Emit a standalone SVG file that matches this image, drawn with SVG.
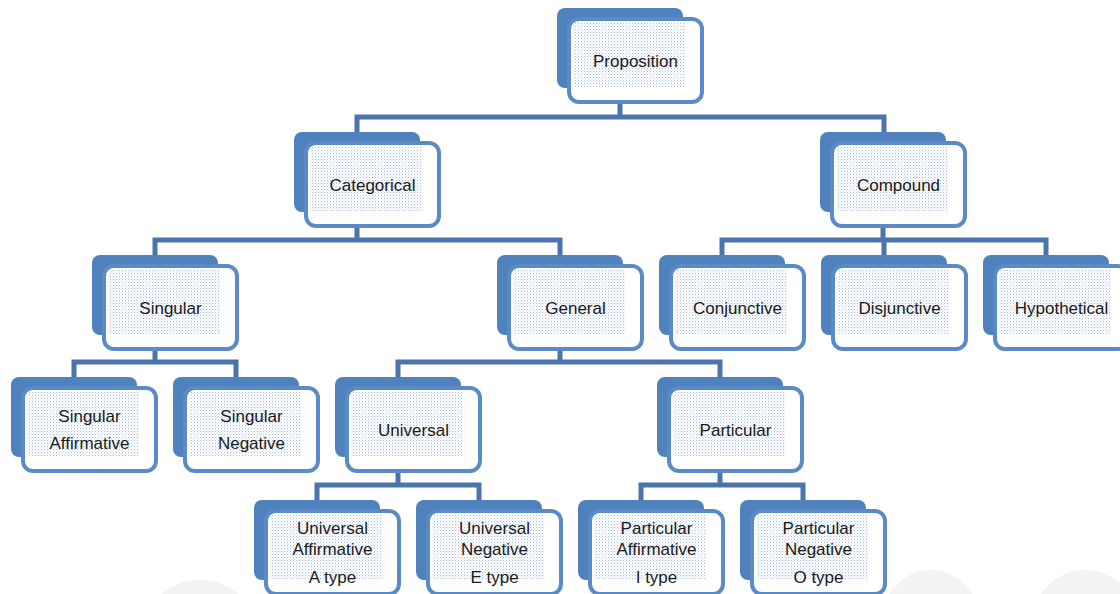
<svg xmlns="http://www.w3.org/2000/svg" width="1120" height="594" viewBox="0 0 1120 594">
<defs>
<pattern id="dots" width="3" height="3" patternUnits="userSpaceOnUse">
<rect width="3" height="3" fill="#ffffff"/>
<rect x="0" y="0" width="1" height="1" fill="#a9bfdf"/>
<rect x="1.5" y="1.5" width="1" height="1" fill="#c4d3ea"/>
</pattern>
<style>
.back{fill:#4f81bd}
.front{fill:#ffffff;stroke:#5b8bc7;stroke-width:4}
.dots{fill:url(#dots)}
.lbl{font-family:"Liberation Sans",Arial,sans-serif;font-size:17px;fill:#1a1a1a;text-anchor:middle}
.conn{fill:none;stroke:#4a74ab;stroke-width:5;stroke-linejoin:miter;stroke-linecap:butt}
.wm{fill:#f3f3f3}
</style>
</defs>
<rect width="1120" height="594" fill="#ffffff"/>
<g id="watermark">
<circle class="wm" cx="931" cy="618" r="48"/>
<circle class="wm" cx="1085" cy="622" r="52"/>
<circle class="wm" cx="200" cy="640" r="60"/>
</g>
<g id="connectors">
<path class="conn" d="M620,104 V117 M357,132 V117 H884 V132"/>
<path class="conn" d="M357,228 V240 M155,255 V240 H560 V255"/>
<path class="conn" d="M883,228 V240 M722,255 V240 H1046 V255 M884,240 V255"/>
<path class="conn" d="M155,351 V362 M74,377 V362 H236 V377"/>
<path class="conn" d="M560,351 V362 M398,377 V362 H720 V377"/>
<path class="conn" d="M398,473 V485 M317,500 V485 H479 V500"/>
<path class="conn" d="M720,473 V485 M641,500 V485 H803 V500"/>
</g>
<g id="n-proposition" transform="translate(557,8)">
<rect class="back" width="126" height="80" rx="8"/>
<rect class="front" x="12" y="11" width="133" height="83" rx="10"/>
<rect class="dots" x="16" y="15" width="112" height="64"/>
<text class="lbl" x="78.5" y="59">Proposition</text>
</g>
<g id="n-categorical" transform="translate(294,132)">
<rect class="back" width="126" height="80" rx="8"/>
<rect class="front" x="12" y="11" width="133" height="83" rx="10"/>
<rect class="dots" x="16" y="15" width="112" height="64"/>
<text class="lbl" x="78.5" y="59">Categorical</text>
</g>
<g id="n-compound" transform="translate(820,132)">
<rect class="back" width="126" height="80" rx="8"/>
<rect class="front" x="12" y="11" width="133" height="83" rx="10"/>
<rect class="dots" x="16" y="15" width="112" height="64"/>
<text class="lbl" x="78.5" y="59">Compound</text>
</g>
<g id="n-singular" transform="translate(92,255)">
<rect class="back" width="126" height="80" rx="8"/>
<rect class="front" x="12" y="11" width="133" height="83" rx="10"/>
<rect class="dots" x="16" y="15" width="112" height="64"/>
<text class="lbl" x="78.5" y="59">Singular</text>
</g>
<g id="n-general" transform="translate(497,255)">
<rect class="back" width="126" height="80" rx="8"/>
<rect class="front" x="12" y="11" width="133" height="83" rx="10"/>
<rect class="dots" x="16" y="15" width="112" height="64"/>
<text class="lbl" x="78.5" y="59">General</text>
</g>
<g id="n-conjunctive" transform="translate(659,255)">
<rect class="back" width="126" height="80" rx="8"/>
<rect class="front" x="12" y="11" width="133" height="83" rx="10"/>
<rect class="dots" x="16" y="15" width="112" height="64"/>
<text class="lbl" x="78.5" y="59">Conjunctive</text>
</g>
<g id="n-disjunctive" transform="translate(821,255)">
<rect class="back" width="126" height="80" rx="8"/>
<rect class="front" x="12" y="11" width="133" height="83" rx="10"/>
<rect class="dots" x="16" y="15" width="112" height="64"/>
<text class="lbl" x="78.5" y="59">Disjunctive</text>
</g>
<g id="n-hypothetical" transform="translate(983,255)">
<rect class="back" width="126" height="80" rx="8"/>
<rect class="front" x="12" y="11" width="133" height="83" rx="10"/>
<rect class="dots" x="16" y="15" width="112" height="64"/>
<text class="lbl" x="78.5" y="59">Hypothetical</text>
</g>
<g id="n-singular-affirmative" transform="translate(11,377)">
<rect class="back" width="126" height="80" rx="8"/>
<rect class="front" x="12" y="11" width="133" height="83" rx="10"/>
<rect class="dots" x="16" y="15" width="112" height="64"/>
<text class="lbl" x="78.5" y="45">Singular</text>
<text class="lbl" x="78.5" y="72">Affirmative</text>
</g>
<g id="n-singular-negative" transform="translate(173,377)">
<rect class="back" width="126" height="80" rx="8"/>
<rect class="front" x="12" y="11" width="133" height="83" rx="10"/>
<rect class="dots" x="16" y="15" width="112" height="64"/>
<text class="lbl" x="78.5" y="45">Singular</text>
<text class="lbl" x="78.5" y="72">Negative</text>
</g>
<g id="n-universal" transform="translate(335,377)">
<rect class="back" width="126" height="80" rx="8"/>
<rect class="front" x="12" y="11" width="133" height="83" rx="10"/>
<rect class="dots" x="16" y="15" width="112" height="64"/>
<text class="lbl" x="78.5" y="59">Universal</text>
</g>
<g id="n-particular" transform="translate(657,377)">
<rect class="back" width="126" height="80" rx="8"/>
<rect class="front" x="12" y="11" width="133" height="83" rx="10"/>
<rect class="dots" x="16" y="15" width="112" height="64"/>
<text class="lbl" x="78.5" y="59">Particular</text>
</g>
<g id="n-universal-affirmative" transform="translate(254,500)">
<rect class="back" width="126" height="80" rx="8"/>
<rect class="front" x="12" y="11" width="133" height="83" rx="10"/>
<rect class="dots" x="16" y="15" width="112" height="64"/>
<text class="lbl" x="78.5" y="34">Universal</text>
<text class="lbl" x="78.5" y="55">Affirmative</text>
<text class="lbl" x="78.5" y="83">A type</text>
</g>
<g id="n-universal-negative" transform="translate(416,500)">
<rect class="back" width="126" height="80" rx="8"/>
<rect class="front" x="12" y="11" width="133" height="83" rx="10"/>
<rect class="dots" x="16" y="15" width="112" height="64"/>
<text class="lbl" x="78.5" y="34">Universal</text>
<text class="lbl" x="78.5" y="55">Negative</text>
<text class="lbl" x="78.5" y="83">E type</text>
</g>
<g id="n-particular-affirmative" transform="translate(578,500)">
<rect class="back" width="126" height="80" rx="8"/>
<rect class="front" x="12" y="11" width="133" height="83" rx="10"/>
<rect class="dots" x="16" y="15" width="112" height="64"/>
<text class="lbl" x="78.5" y="34">Particular</text>
<text class="lbl" x="78.5" y="55">Affirmative</text>
<text class="lbl" x="78.5" y="83">I type</text>
</g>
<g id="n-particular-negative" transform="translate(740,500)">
<rect class="back" width="126" height="80" rx="8"/>
<rect class="front" x="12" y="11" width="133" height="83" rx="10"/>
<rect class="dots" x="16" y="15" width="112" height="64"/>
<text class="lbl" x="78.5" y="34">Particular</text>
<text class="lbl" x="78.5" y="55">Negative</text>
<text class="lbl" x="78.5" y="83">O type</text>
</g>
</svg>
